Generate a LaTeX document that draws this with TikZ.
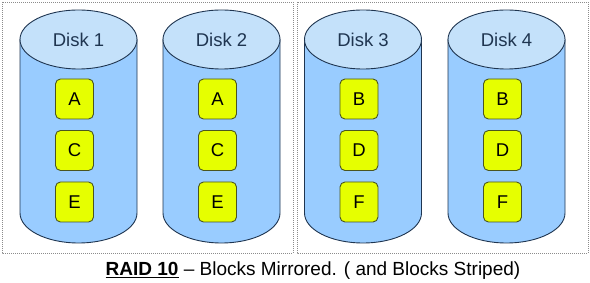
\documentclass[tikz,border=0pt]{standalone}
\usepackage{fontspec}
\setmainfont{Liberation Sans}
\usetikzlibrary{shapes.geometric}
\definecolor{bodyblue}{HTML}{99CCFF}
\definecolor{topblue}{HTML}{C4E1FA}
\definecolor{cylline}{HTML}{1F3550}
\definecolor{blockyel}{HTML}{E6FF00}
\definecolor{blockline}{HTML}{4A5520}
\definecolor{framegray}{HTML}{8C8C8C}
\begin{document}
\begin{tikzpicture}[x=1pt,y=-1pt,
  frame/.style={draw=framegray, line width=0.9pt, dash pattern=on 1pt off 1pt},
  cylbody/.style={draw=cylline, fill=bodyblue, line width=0.9pt},
  cyltop/.style={ellipse, draw=cylline, fill=topblue, line width=0.9pt, minimum width=117pt, minimum height=59pt, inner sep=0pt, text=cylline, font=\fontsize{18.5}{22}\selectfont},
  blockbox/.style={draw=blockline, fill=blockyel, line width=0.9pt, rounded corners=5pt, minimum width=38pt, minimum height=40pt, inner sep=0pt, font=\fontsize{18.5}{22}\selectfont},
  caption/.style={font=\fontsize{19}{22}\selectfont, inner sep=0pt}]
\useasboundingbox (0,0) rectangle (590,283);
\fill[white] (0,0) rectangle (590,283);
\draw[frame] (2,2) rectangle (293,253);
\draw[frame] (297,2) rectangle (588,253);
% cylinders
\foreach \cx/\n in {78.5/1, 221.5/2, 363/3, 506.5/4}{
  \draw[cylbody] (\cx-58.5,39.5) -- (\cx-58.5,213) arc[start angle=180, end angle=0, x radius=58.5, y radius=30] -- (\cx+58.5,39.5) -- cycle;
  \node[cyltop] (disk\n) at (\cx,39.5) {Disk \n};
}
% blocks
\foreach \cx/\n/\a/\b/\c in {74.5/1/A/C/E, 217.5/2/A/C/E, 359/3/B/D/F, 502.5/4/B/D/F}{
  \node[blockbox] (b\n a) at (\cx,99) {\a};
  \node[blockbox] (b\n b) at (\cx,150.5) {\b};
  \node[blockbox] (b\n c) at (\cx,202) {\c};
}
\node[caption] (cap) at (313,271) {{\bfseries\underline{RAID 10}} – Blocks Mirrored. ( and Blocks Striped)};
\end{tikzpicture}
\end{document}
